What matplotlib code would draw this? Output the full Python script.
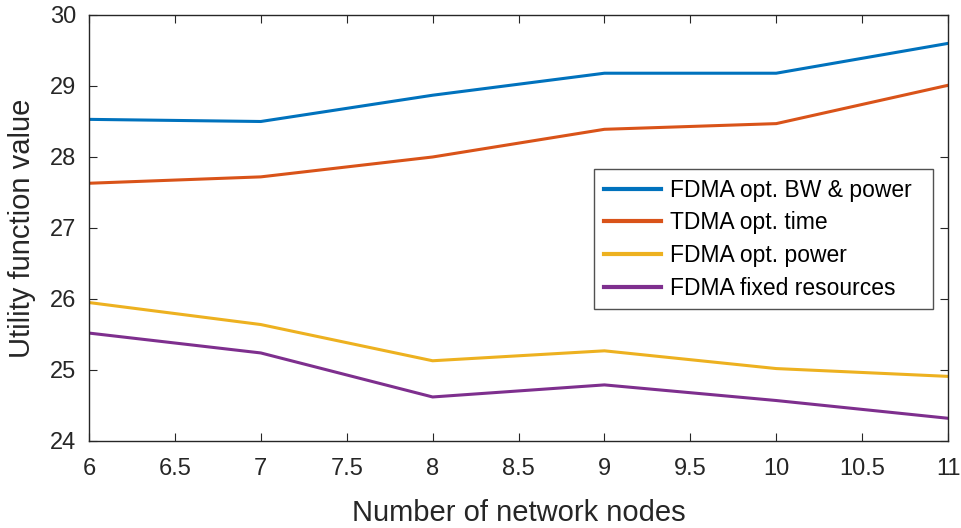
import matplotlib
matplotlib.use("Agg")
import matplotlib.pyplot as plt

nodes = [6, 7, 8, 9, 10, 11]
fdma_bw_power = [28.53, 28.50, 28.87, 29.18, 29.18, 29.60]
tdma_time = [27.63, 27.72, 28.00, 28.39, 28.47, 29.01]
fdma_power = [25.95, 25.64, 25.13, 25.27, 25.02, 24.91]
fdma_fixed = [25.52, 25.24, 24.62, 24.79, 24.57, 24.32]

series_labels = ["FDMA opt. BW & power", "TDMA opt. time", "FDMA opt. power", "FDMA fixed resources"]
colors = ["#0072BD", "#D95319", "#EDB120", "#7E2F8E"]

plt.rcParams['font.family'] = ['Liberation Sans', 'DejaVu Sans']

fig = plt.figure(figsize=(9.61, 5.28), dpi=100)
ax = fig.add_axes([0.0926, 0.1648, 0.8939, 0.8068])

for ys, lab, c in zip([fdma_bw_power, tdma_time, fdma_power, fdma_fixed], series_labels, colors):
    ax.plot(nodes, ys, color=c, lw=2.2, label=lab)

ax.set_xlim(6, 11)
ax.set_ylim(24, 30)
ax.set_xticks([6, 6.5, 7, 7.5, 8, 8.5, 9, 9.5, 10, 10.5, 11])
ax.set_xticklabels(["6", "6.5", "7", "7.5", "8", "8.5", "9", "9.5", "10", "10.5", "11"])
ax.set_yticks([24, 25, 26, 27, 28, 29, 30])
ax.tick_params(direction='in', top=True, right=True, labelsize=17, colors='#262626', length=6)
ax.tick_params(axis='x', pad=12)
ax.tick_params(axis='y', pad=9)
for s in ax.spines.values():
    s.set_color('#262626')
    s.set_linewidth(1.0)
ax.set_xlabel("Number of network nodes", fontsize=21, color='#262626', labelpad=14)
ax.set_ylabel("Utility function value", fontsize=21, color='#262626', labelpad=10)

leg = ax.legend(loc='upper left', bbox_to_anchor=(0.588, 0.316, 0.3945, 0.322), mode='expand',
                fontsize=16.5, frameon=True, fancybox=False, edgecolor='#262626',
                handlelength=2.5, borderpad=0.42, labelspacing=0.42, handletextpad=0.4,
                borderaxespad=0.0)
leg.get_frame().set_linewidth(1.0)
for line in leg.get_lines():
    line.set_linewidth(3)

fig.savefig("out.png", dpi=100)
